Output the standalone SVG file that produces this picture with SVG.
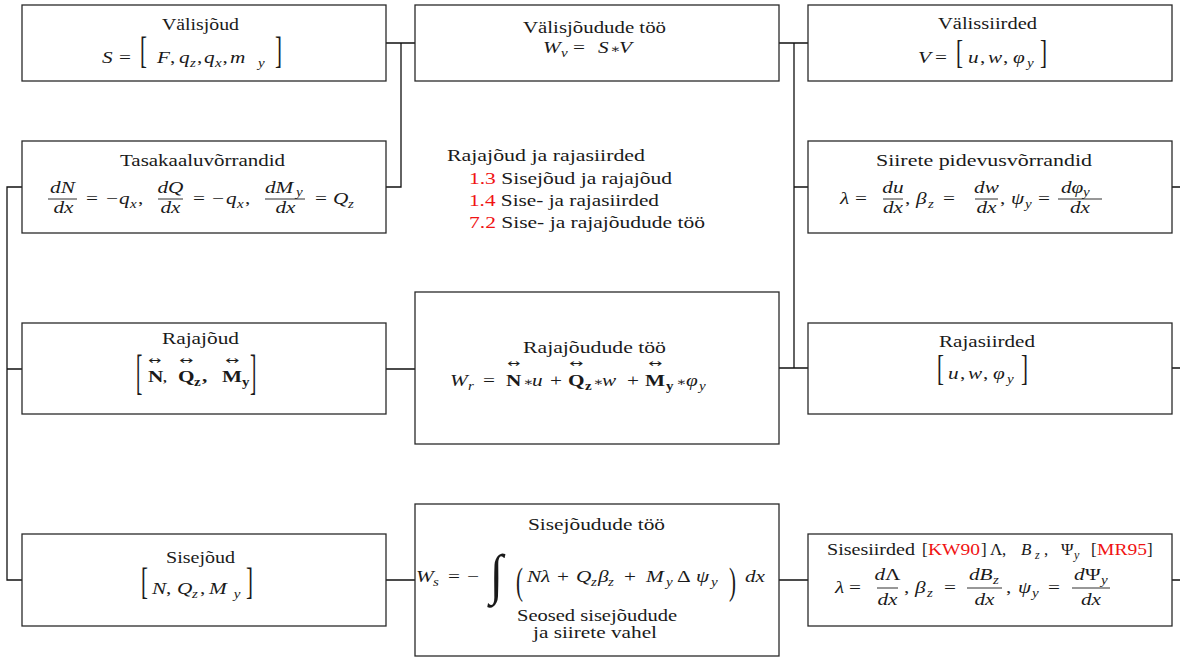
<svg xmlns="http://www.w3.org/2000/svg" width="1180" height="657" viewBox="0 0 1180 657">
<defs>
<style>
.box{fill:#fff;stroke:#2a2a2a;stroke-width:1.3}
.wire{fill:none;stroke:#111;stroke-width:1.3}
.t{font-family:"Liberation Serif","DejaVu Serif",serif;font-size:17px;fill:#1a1a1a}
.i{font-style:italic}
.s{font-size:12px}
.b{font-weight:bold}
.red{fill:#f01414}
.st{font-size:12px}
.br{font-family:"Liberation Serif","DejaVu Serif",serif;font-size:38px;fill:#1a1a1a}
.ar{font-family:"DejaVu Sans",sans-serif;font-size:11px;fill:#1a1a1a}
.bar{stroke:#1a1a1a;stroke-width:0.9}
.mid{text-anchor:middle}
</style>
</defs>
<rect width="1180" height="657" fill="#fff"/>
<g id="connectors">
<path class="wire" d="M386,43H415M401,43V187H386"/>
<path class="wire" d="M779,43H808M794,43V368M794,187H808M779,368H808"/>
<path class="wire" d="M22,187H7V580H22M7,369H22"/>
<path class="wire" d="M386,369H415M386,580H415M779,580H808"/>
<path class="wire" d="M1172,187H1180M1172,368H1180M1172,580H1180"/>
</g>
<g id="valisjoud">
<rect class="box" x="22" y="5" width="364" height="76"/>
<text class="t" x="162" y="30" textLength="77" lengthAdjust="spacingAndGlyphs">Välisjõud</text>
<text class="t" transform="scale(1.25,1)"><tspan class="i" x="81.6" y="63">S</tspan><tspan x="95.2" y="63">=</tspan><tspan class="i" x="125.6" y="63">F</tspan><tspan>,</tspan><tspan class="i" x="143.2" y="63">q</tspan><tspan class="s i" x="152" y="67">z</tspan><tspan x="157.6" y="63">,</tspan><tspan class="i" x="163.2" y="63">q</tspan><tspan class="s i" x="172" y="67">x</tspan><tspan x="178" y="63">,</tspan><tspan class="i" x="184" y="63">m</tspan><tspan class="s i" x="206.4" y="67">y</tspan></text>
<text class="br" transform="translate(140,63) scale(0.55,1)">[</text>
<text class="br" transform="translate(275,63) scale(0.55,1)">]</text>
</g>
<g id="tasakaal">
<rect class="box" x="22" y="141" width="364" height="92"/>
<text class="t" x="120" y="166" textLength="165" lengthAdjust="spacingAndGlyphs">Tasakaaluvõrrandid</text>
<line class="bar" x1="48" y1="199" x2="77" y2="199"/>
<line class="bar" x1="158" y1="199" x2="183" y2="199"/>
<line class="bar" x1="265" y1="199" x2="305" y2="199"/>
<text class="t i mid" transform="scale(1.25,1)"><tspan x="50" y="193">dN</tspan><tspan x="50.8" y="213">dx</tspan><tspan x="136.4" y="193">dQ</tspan><tspan x="136.4" y="213">dx</tspan><tspan x="228.4" y="213">dx</tspan></text>
<text class="t i" transform="scale(1.25,1)"><tspan x="212" y="193">dM</tspan><tspan class="s" x="236.8" y="196">y</tspan></text>
<text class="t" transform="scale(1.25,1)"><tspan x="68.8" y="204">=</tspan><tspan x="84.8" y="204">−</tspan><tspan class="i" x="95.2" y="204">q</tspan><tspan class="s i" x="104" y="208">x</tspan><tspan x="110.4" y="204">,</tspan><tspan x="154.4" y="204">=</tspan><tspan x="169.6" y="204">−</tspan><tspan class="i" x="180.8" y="204">q</tspan><tspan class="s i" x="189.6" y="208">x</tspan><tspan x="196" y="204">,</tspan><tspan x="252" y="204">=</tspan><tspan class="i" x="266.4" y="204">Q</tspan><tspan class="s i" x="278.4" y="208">z</tspan></text>
</g>
<g id="rajajoud">
<rect class="box" x="22" y="323" width="364" height="91"/>
<text class="t" x="162" y="344" textLength="77" lengthAdjust="spacingAndGlyphs">Rajajõud</text>
<text class="br" transform="translate(136,388) scale(0.5,1.3)">[</text>
<text class="br" transform="translate(250,388) scale(0.5,1.3)">]</text>
<text class="ar" x="148" y="363.5" textLength="13" lengthAdjust="spacingAndGlyphs">↔</text>
<text class="ar" x="179" y="363.5" textLength="14" lengthAdjust="spacingAndGlyphs">↔</text>
<text class="ar" x="225" y="363.5" textLength="14" lengthAdjust="spacingAndGlyphs">↔</text>
<text class="t b" transform="scale(1.25,1)"><tspan x="118.4" y="382">N</tspan><tspan class="s" x="130.4" y="382">,</tspan><tspan x="142.4" y="382">Q</tspan><tspan class="s" x="155.2" y="386">z</tspan><tspan x="161.6" y="382">,</tspan><tspan x="177.6" y="382">M</tspan><tspan class="s" x="193.6" y="386">y</tspan></text>
</g>
<g id="sisejoud">
<rect class="box" x="22" y="534" width="364" height="92"/>
<text class="t" x="166" y="563" textLength="69" lengthAdjust="spacingAndGlyphs">Sisejõud</text>
<text class="br" transform="translate(141,594) scale(0.55,1)">[</text>
<text class="br" transform="translate(246,594) scale(0.55,1)">]</text>
<text class="t" transform="scale(1.25,1)"><tspan class="i" x="121.6" y="594">N</tspan><tspan x="132.8" y="594">,</tspan><tspan class="i" x="141.6" y="594">Q</tspan><tspan class="s i" x="153.6" y="598">z</tspan><tspan x="160" y="594">,</tspan><tspan class="i" x="167.2" y="594">M</tspan><tspan class="s i" x="187" y="598">y</tspan></text>
</g>
<g id="valisjoudude-too">
<rect class="box" x="415" y="5" width="364" height="76"/>
<text class="t" x="523" y="33" textLength="143" lengthAdjust="spacingAndGlyphs">Välisjõudude töö</text>
<text class="t" transform="scale(1.25,1)"><tspan class="i" x="434.4" y="53">W</tspan><tspan class="s i" x="448.8" y="57">v</tspan><tspan x="458.4" y="53">=</tspan><tspan class="i" x="478.4" y="53">S</tspan><tspan class="st" x="488" y="53">∗</tspan><tspan class="i" x="495.2" y="53">V</tspan></text>
</g>
<g id="rajaviited">
<text class="t" x="447" y="161" textLength="198" lengthAdjust="spacingAndGlyphs">Rajajõud ja rajasiirded</text>
<text class="t" x="469" y="184" textLength="203" lengthAdjust="spacingAndGlyphs"><tspan class="red">1.3</tspan> Sisejõud ja rajajõud</text>
<text class="t" x="469" y="206" textLength="190" lengthAdjust="spacingAndGlyphs"><tspan class="red">1.4</tspan> Sise- ja rajasiirded</text>
<text class="t" x="469" y="228" textLength="236" lengthAdjust="spacingAndGlyphs"><tspan class="red">7.2</tspan> Sise- ja rajajõudude töö</text>
</g>
<g id="rajajoudude-too">
<rect class="box" x="415" y="292" width="364" height="152"/>
<text class="t" x="523" y="353" textLength="143" lengthAdjust="spacingAndGlyphs">Rajajõudude töö</text>
<text class="ar" x="507" y="367" textLength="13" lengthAdjust="spacingAndGlyphs">↔</text>
<text class="ar" x="569" y="367" textLength="14" lengthAdjust="spacingAndGlyphs">↔</text>
<text class="ar" x="648" y="367" textLength="14" lengthAdjust="spacingAndGlyphs">↔</text>
<text class="t" transform="scale(1.25,1)"><tspan class="i" x="360" y="386">W</tspan><tspan class="s i" x="374.4" y="390">r</tspan><tspan x="386.4" y="386">=</tspan><tspan class="b" x="404.8" y="386">N</tspan><tspan class="st" x="418.4" y="386">∗</tspan><tspan class="i" x="425.6" y="386">u</tspan><tspan x="440" y="386">+</tspan><tspan class="b" x="454.4" y="386">Q</tspan><tspan class="s b" x="468" y="390">z</tspan><tspan class="st" x="474.4" y="386">∗</tspan><tspan class="i" x="481.6" y="386">w</tspan><tspan x="501.6" y="386">+</tspan><tspan class="b" x="516" y="386">M</tspan><tspan class="s b" x="532.8" y="390">y</tspan><tspan class="st" x="540.8" y="386">∗</tspan><tspan class="i" x="548.8" y="386">φ</tspan><tspan class="s i" x="559.2" y="390">y</tspan></text>
</g>
<g id="sisejoudude-too">
<rect class="box" x="415" y="504" width="364" height="152"/>
<text class="t" x="528" y="530" textLength="137" lengthAdjust="spacingAndGlyphs">Sisejõudude töö</text>
<text class="t" transform="translate(490,593) scale(1,1.15)" style="font-size:48px">∫</text>
<text class="br" transform="translate(516,594) scale(0.55,1)">(</text>
<text class="br" transform="translate(729,594) scale(0.55,1)">)</text>
<text class="t" transform="scale(1.25,1)"><tspan class="i" x="332.8" y="582">W</tspan><tspan class="s i" x="346.4" y="586">s</tspan><tspan x="358.4" y="582">=</tspan><tspan x="373.6" y="582">−</tspan><tspan class="i" x="421.6" y="582">N</tspan><tspan class="i" x="432.8" y="582">λ</tspan><tspan x="445.6" y="582">+</tspan><tspan class="i" x="460.8" y="582">Q</tspan><tspan class="s i" x="472.8" y="586">z</tspan><tspan class="i" x="478.4" y="582">β</tspan><tspan class="s i" x="486.4" y="586">z</tspan><tspan x="499.2" y="582">+</tspan><tspan class="i" x="516.8" y="582">M</tspan><tspan class="s i" x="532.8" y="586">y</tspan><tspan x="541.6" y="582">Δ</tspan><tspan class="i" x="556.8" y="582">ψ</tspan><tspan class="s i" x="568.8" y="586">y</tspan><tspan class="i" x="596" y="582">dx</tspan></text>
<text class="t" x="517" y="621" textLength="160" lengthAdjust="spacingAndGlyphs" style="font-size:16px">Seosed sisejõudude</text>
<text class="t" x="533" y="638" textLength="124" lengthAdjust="spacingAndGlyphs" style="font-size:16px">ja siirete vahel</text>
</g>
<g id="valissiirded">
<rect class="box" x="808" y="5" width="364" height="76"/>
<text class="t" x="938" y="29" textLength="99" lengthAdjust="spacingAndGlyphs">Välissiirded</text>
<text class="br" transform="translate(956,63.3) scale(0.62,1)" style="font-size:34px">[</text>
<text class="br" transform="translate(1040,63.3) scale(0.62,1)" style="font-size:34px">]</text>
<text class="t" transform="scale(1.25,1)"><tspan class="i" x="734.4" y="63">V</tspan><tspan x="748" y="63">=</tspan><tspan class="i" x="774.4" y="63">u</tspan><tspan x="784" y="63">,</tspan><tspan class="i" x="790.4" y="63">w</tspan><tspan x="802.4" y="63">,</tspan><tspan class="i" x="810.4" y="63">φ</tspan><tspan class="s i" x="821.6" y="67">y</tspan></text>
</g>
<g id="pidevus">
<rect class="box" x="808" y="141" width="364" height="92"/>
<text class="t" x="876" y="166" textLength="216" lengthAdjust="spacingAndGlyphs">Siirete pidevusvõrrandid</text>
<line class="bar" x1="883" y1="199" x2="903" y2="199"/>
<line class="bar" x1="975" y1="199" x2="998" y2="199"/>
<line class="bar" x1="1058" y1="199" x2="1102" y2="199"/>
<text class="t i mid" transform="scale(1.25,1)"><tspan x="714.4" y="193">du</tspan><tspan x="714.4" y="213">dx</tspan><tspan x="789.2" y="193">dw</tspan><tspan x="789.2" y="213">dx</tspan><tspan x="864" y="213">dx</tspan></text>
<text class="t i" transform="scale(1.25,1)"><tspan x="848.8" y="193">dφ</tspan><tspan class="s" x="866.4" y="196">y</tspan></text>
<text class="t" transform="scale(1.25,1)"><tspan class="i" x="672" y="204">λ</tspan><tspan x="684" y="204">=</tspan><tspan x="724" y="204">,</tspan><tspan class="i" x="732.8" y="204">β</tspan><tspan class="s i" x="742.4" y="208">z</tspan><tspan x="754.4" y="204">=</tspan><tspan x="800" y="204">,</tspan><tspan class="i" x="808.8" y="204">ψ</tspan><tspan class="s i" x="820" y="208">y</tspan><tspan x="830.4" y="204">=</tspan></text>
</g>
<g id="rajasiirded">
<rect class="box" x="808" y="323" width="364" height="91"/>
<text class="t" x="939" y="347" textLength="96" lengthAdjust="spacingAndGlyphs">Rajasiirded</text>
<text class="br" transform="translate(937,380) scale(0.55,0.95)">[</text>
<text class="br" transform="translate(1021,380) scale(0.55,0.95)">]</text>
<text class="t" transform="scale(1.25,1)"><tspan class="i" x="758.4" y="379">u</tspan><tspan x="768" y="379">,</tspan><tspan class="i" x="774.4" y="379">w</tspan><tspan x="786.4" y="379">,</tspan><tspan class="i" x="794.4" y="379">φ</tspan><tspan class="s i" x="805.6" y="383">y</tspan></text>
</g>
<g id="sisesiirded">
<rect class="box" x="808" y="534" width="364" height="92"/>
<text class="t"><tspan x="827" y="555" textLength="88" lengthAdjust="spacingAndGlyphs">Sisesiirded</tspan><tspan x="922" y="555">[</tspan><tspan class="red" x="928" y="555" textLength="52" lengthAdjust="spacingAndGlyphs">KW90</tspan><tspan x="981" y="555">]</tspan><tspan x="990" y="555">Λ</tspan><tspan x="1002" y="555">,</tspan><tspan class="i" x="1021" y="555">B</tspan><tspan class="s i" x="1035" y="559">z</tspan><tspan x="1044" y="555">,</tspan><tspan x="1061" y="555">Ψ</tspan><tspan class="s i" x="1074" y="559">y</tspan><tspan x="1091" y="555">[</tspan><tspan class="red" x="1097" y="555" textLength="50" lengthAdjust="spacingAndGlyphs">MR95</tspan><tspan x="1147" y="555">]</tspan></text>
<line class="bar" x1="877" y1="588" x2="898" y2="588"/>
<line class="bar" x1="967" y1="588" x2="1002" y2="588"/>
<line class="bar" x1="1072" y1="588" x2="1110" y2="588"/>
<text class="t mid" transform="scale(1.25,1)"><tspan x="710" y="580"><tspan class="i">d</tspan>Λ</tspan><tspan class="i" x="710" y="605">dx</tspan><tspan class="i" x="787.6" y="605">dx</tspan><tspan class="i" x="872.8" y="605">dx</tspan></text>
<text class="t" transform="scale(1.25,1)"><tspan class="i" x="775.2" y="580">dB</tspan><tspan class="s i" x="794.4" y="584">z</tspan><tspan class="i" x="859.2" y="580">d</tspan><tspan x="868" y="580">Ψ</tspan><tspan class="s i" x="880.8" y="584">y</tspan></text>
<text class="t" transform="scale(1.25,1)"><tspan class="i" x="668" y="593">λ</tspan><tspan x="679.2" y="593">=</tspan><tspan x="723.2" y="593">,</tspan><tspan class="i" x="732" y="593">β</tspan><tspan class="s i" x="741.6" y="597">z</tspan><tspan x="755.2" y="593">=</tspan><tspan x="804.8" y="593">,</tspan><tspan class="i" x="814.4" y="593">ψ</tspan><tspan class="s i" x="825.6" y="597">y</tspan><tspan x="838.4" y="593">=</tspan></text>
</g>
</svg>
